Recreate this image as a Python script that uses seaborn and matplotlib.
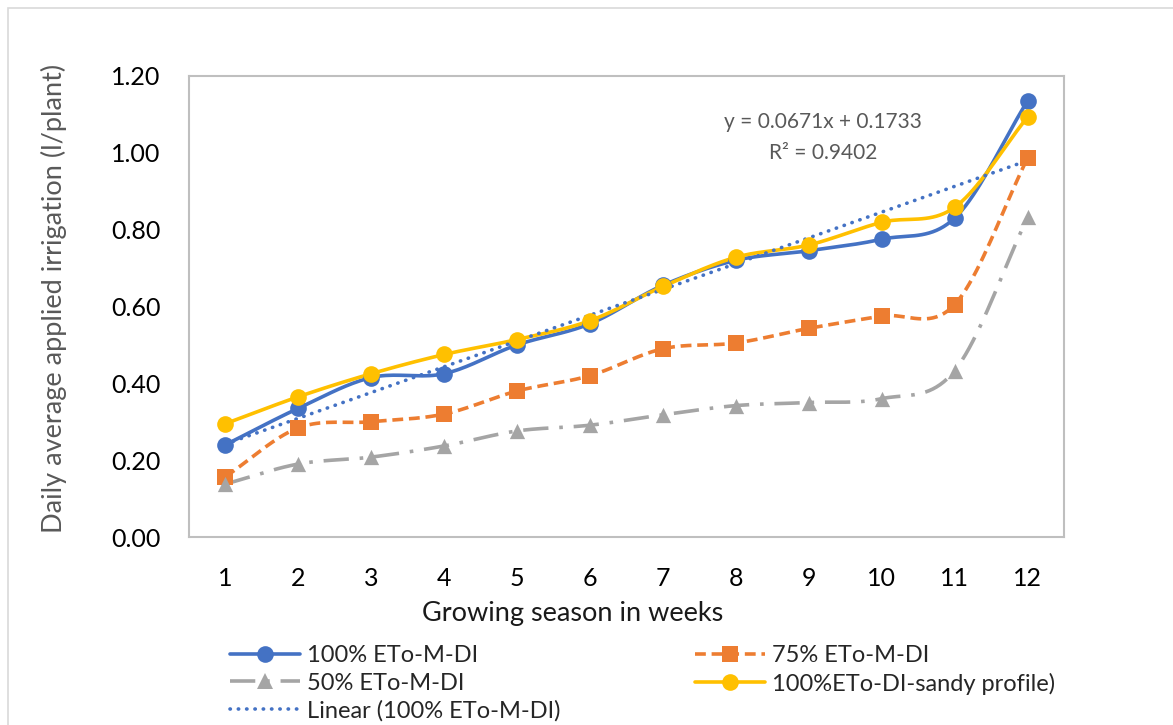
import numpy as np
import pandas as pd
import matplotlib
matplotlib.use('Agg')
import matplotlib.pyplot as plt
import seaborn as sns
from matplotlib.lines import Line2D
from matplotlib.patches import Rectangle

weeks = list(range(1, 13))
eto_100 = [0.24, 0.335, 0.415, 0.425, 0.50, 0.555, 0.655, 0.72, 0.745, 0.775, 0.83, 1.135]
eto_75 = [0.157, 0.284, 0.30, 0.32, 0.38, 0.42, 0.49, 0.505, 0.543, 0.575, 0.605, 0.986]
eto_50 = [0.138, 0.19, 0.208, 0.237, 0.276, 0.291, 0.318, 0.342, 0.35, 0.36, 0.433, 0.832]
eto_sandy = [0.295, 0.365, 0.425, 0.475, 0.514, 0.563, 0.652, 0.728, 0.76, 0.819, 0.858, 1.093]
series_names = ['100% ETo-M-DI', '75% ETo-M-DI', '50% ETo-M-DI', '100%ETo-DI-sandy profile)']
trend_name = 'Linear (100% ETo-M-DI)'
eq_text = 'y = 0.0671x + 0.1733'
r2_text = 'R² = 0.9402'

df = pd.DataFrame({'week': weeks, series_names[0]: eto_100, series_names[1]: eto_75,
                   series_names[2]: eto_50, series_names[3]: eto_sandy})


def smooth_curve(x, y, n=20):
    # catmull-rom like Excel "smoothed line"
    x = np.asarray(x, float)
    y = np.asarray(y, float)
    px = np.concatenate([[2 * x[0] - x[1]], x, [2 * x[-1] - x[-2]]])
    py = np.concatenate([[2 * y[0] - y[1]], y, [2 * y[-1] - y[-2]]])
    xs, ys = [], []
    for i in range(1, len(px) - 2):
        t = np.linspace(0, 1, n, endpoint=False)
        for arr, out in ((px, xs), (py, ys)):
            p0, p1, p2, p3 = arr[i - 1], arr[i], arr[i + 1], arr[i + 2]
            out.extend(0.5 * ((2 * p1) + (-p0 + p2) * t + (2 * p0 - 5 * p1 + 4 * p2 - p3) * t ** 2
                              + (-p0 + 3 * p1 - 3 * p2 + p3) * t ** 3))
    xs.append(x[-1])
    ys.append(y[-1])
    return np.array(xs), np.array(ys)


sns.set_style('white')
plt.rcParams['font.family'] = ['Lato', 'DejaVu Sans']

fig = plt.figure(figsize=(11.73, 7.25), dpi=100)
ax = fig.add_axes([0.1611, 0.2593, 0.746, 0.636])

colors = ['#4472C4', '#ED7D31', '#A5A5A5', '#FFC000']
markers = ['o', 's', '^', 'o']
styles = [(None, None), (0, (3, 1.6)), (0, (7, 3, 1, 3)), (None, None)]
msizes = [12, 11, 11, 12]

handles = []
for name, c, m, ls, ms in zip(series_names, colors, markers, styles, msizes):
    sx, sy = smooth_curve(df['week'], df[name])
    kw = {}
    if ls[0] is not None:
        kw['linestyle'] = ls
    sns.lineplot(x=sx, y=sy, ax=ax, color=c, linewidth=2.6, sort=False, estimator=None, **kw)
    sns.scatterplot(x='week', y=name, data=df, ax=ax, color=c, marker=m, s=ms ** 2,
                    edgecolor=c, linewidth=0, zorder=5)
    handles.append(Line2D([0], [0], color=c, linewidth=2.6, marker=m, markersize=ms,
                          markeredgewidth=0, linestyle=ls if ls[0] is not None else '-'))

# linear trend of 100% series
k, b = np.polyfit(weeks, eto_100, 1)
tx = np.array([weeks[0], weeks[-1]])
ax.plot(tx, k * tx + b, color='#4472C4', linewidth=2.6, linestyle=(0, (0.1, 2.2)),
        dash_capstyle='round', zorder=4)
handles.append(Line2D([0], [0], color='#4472C4', linewidth=2.6, linestyle=(0, (0.1, 2.2)),
                      dash_capstyle='round'))

ax.text(9.2, 1.08, eq_text, ha='center', va='center', fontsize=15, color='#595959')
ax.text(9.2, 0.999, r2_text, ha='center', va='center', fontsize=15, color='#595959')

ax.set_xlim(0.5, 12.5)
ax.set_ylim(0, 1.2)
ax.set_xticks(weeks)
ax.set_yticks(np.arange(0, 1.21, 0.2))
ax.set_yticklabels([f'{v:.2f}' for v in np.arange(0, 1.21, 0.2)])
ax.tick_params(axis='both', length=0, labelsize=18, colors='black')
ax.tick_params(axis='x', pad=21.5)
ax.tick_params(axis='y', pad=20.5)
for sp in ax.spines.values():
    sp.set_color('#BFBFBF')
    sp.set_linewidth(1.5)
    sp.set_visible(True)

ax.set_xlabel('Growing season in weeks', fontsize=19.5, color='#1a1a1a')
ax.xaxis.set_label_coords(0.438, -0.166)
ax.set_ylabel('Daily average applied irrigation (l/plant)', fontsize=19.5, color='#595959')
ax.yaxis.set_label_coords(-0.154, 0.517)
ax.yaxis.label.set_va('center')
ax.xaxis.label.set_va('center')

order = [0, 2, 4, 1, 3]
names = series_names + [trend_name]
fig.legend([handles[i] for i in order], [names[i] for i in order], ncol=2,
           loc='upper left', bbox_to_anchor=(230 / 1173, 1 - 645 / 725), frameon=False, fontsize=17,
           handlelength=2.97, handletextpad=0.3, columnspacing=5.7, labelspacing=0.28,
           borderaxespad=0, borderpad=0)

fig.patches.append(Rectangle((8 / 1173, -0.1), 1.2, 1.1 - 8 / 725, transform=fig.transFigure,
                             fill=False, edgecolor='#D9D9D9', linewidth=1.2))

fig.savefig('out.png', dpi=100)
